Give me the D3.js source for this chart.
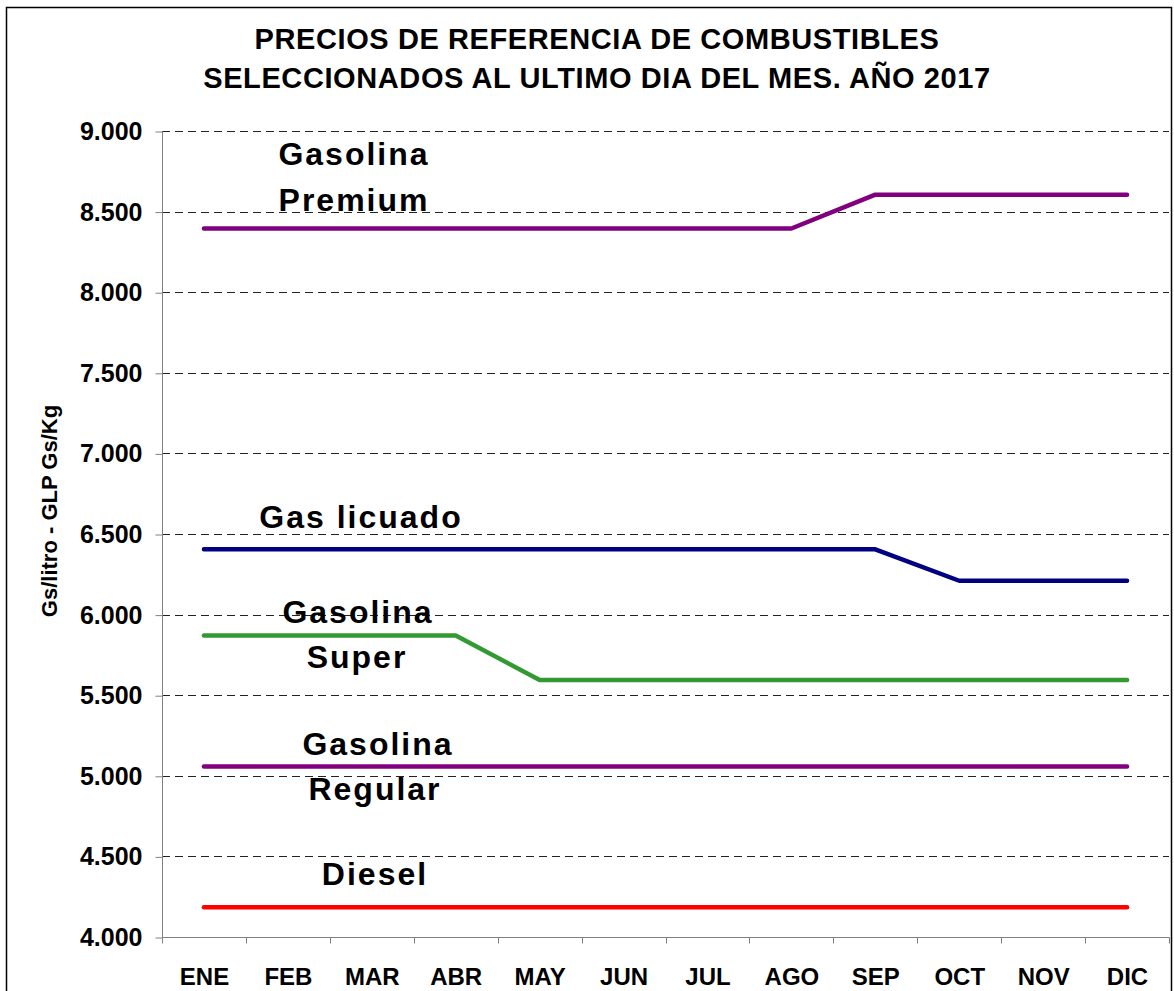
<!DOCTYPE html>
<html>
<head>
<meta charset="utf-8">
<script src="https://d3js.org/d3.v7.min.js"></script>
<style>
  body { margin: 0; background: #fff; }
  text { font-family: Arial, "Liberation Sans", sans-serif; font-weight: bold; fill: #000; }
</style>
</head>
<body>
<div id="chart"></div>
<script>
// months and series
const months = ["ENE", "FEB", "MAR", "ABR", "MAY", "JUN", "JUL", "AGO", "SEP", "OCT", "NOV", "DIC"];
const premium = [8395, 8395, 8395, 8395, 8395, 8395, 8395, 8395, 8605, 8605, 8605, 8605];
const glp = [6405, 6405, 6405, 6405, 6405, 6405, 6405, 6405, 6405, 6210, 6210, 6210];
const superG = [5870, 5870, 5870, 5870, 5595, 5595, 5595, 5595, 5595, 5595, 5595, 5595];
const regular = [5058, 5058, 5058, 5058, 5058, 5058, 5058, 5058, 5058, 5058, 5058, 5058];
const diesel = [4184, 4184, 4184, 4184, 4184, 4184, 4184, 4184, 4184, 4184, 4184, 4184];
const yTicks = [4000, 4500, 5000, 5500, 6000, 6500, 7000, 7500, 8000, 8500, 9000];

const width = 1174, height = 991;

const svg = d3.select("#chart")
    .append("svg")
    .attr("width", width)
    .attr("height", height);

// outer frame
svg.append("rect")
    .attr("x", 6.5).attr("y", 7.5)
    .attr("width", 1165).attr("height", 1000)
    .attr("fill", "white")
    .attr("stroke", "black")
    .attr("stroke-width", 1.5);

const x = d3.scaleBand().domain(months).range([162, 1169]);
const y = d3.scaleLinear().domain([4000, 9000]).range([937, 131]);

// title
svg.append("text")
    .attr("x", 597).attr("y", 49)
    .attr("text-anchor", "middle")
    .style("font-size", "29px")
    .style("letter-spacing", "0.6px")
    .text("PRECIOS DE REFERENCIA DE COMBUSTIBLES");
svg.append("text")
    .attr("x", 597).attr("y", 88)
    .attr("text-anchor", "middle")
    .style("font-size", "29px")
    .style("letter-spacing", "0.6px")
    .text("SELECCIONADOS AL ULTIMO DIA DEL MES. AÑO 2017");

// dashed gridlines
svg.append("g")
    .selectAll("line")
    .data(yTicks.filter(d => d > 4000))
    .enter()
    .append("line")
    .attr("x1", 162).attr("x2", 1169)
    .attr("y1", d => Math.round(y(d)) + 0.5)
    .attr("y2", d => Math.round(y(d)) + 0.5)
    .attr("stroke", "#222")
    .attr("stroke-dasharray", "8,5");

// y axis
const yAxis = d3.axisLeft(y)
    .tickValues(yTicks)
    .tickSize(7)
    .tickPadding(13)
    .tickFormat(d => d3.format(",.3f")(d / 1000).replace(",", ""));
const gy = svg.append("g")
    .attr("transform", "translate(162.5,0.5)")
    .call(yAxis);
gy.selectAll("path, line").attr("stroke", "#808080");
gy.select(".domain").attr("d", `M0,${y(9000)}V${y(4000)}`);
gy.selectAll("text")
    .style("font-size", "25px")
    .style("font-family", "Arial, 'Liberation Sans', sans-serif")
    .style("font-weight", "bold")
    .attr("fill", "#000");

// x axis
const xAxis = d3.axisBottom(x).tickSize(0).tickPadding(30);
const gx = svg.append("g")
    .attr("transform", `translate(0.5,${y(4000) + 0.5})`)
    .call(xAxis);
gx.select(".domain").attr("stroke", "#808080").attr("d", "M162,0H1169");
gx.selectAll("text")
    .style("font-size", "24px")
    .style("font-family", "Arial, 'Liberation Sans', sans-serif")
    .style("font-weight", "bold")
    .attr("fill", "#000");
// boundary ticks between months
gx.selectAll(".sep")
    .data(months.concat(["end"]))
    .enter()
    .append("line")
    .attr("x1", (d, i) => Math.round(162 + i * x.bandwidth()))
    .attr("x2", (d, i) => Math.round(162 + i * x.bandwidth()))
    .attr("y1", 0).attr("y2", 6)
    .attr("stroke", "#808080");

// y axis title
svg.append("text")
    .attr("transform", "translate(57,511) rotate(-90)")
    .attr("text-anchor", "middle")
    .style("font-size", "22px")
    .text("Gs/litro - GLP Gs/Kg");

// series lines
const series = [
    { values: premium, color: "#800080" },
    { values: glp, color: "#000080" },
    { values: superG, color: "#339933" },
    { values: regular, color: "#800080" },
    { values: diesel, color: "#FF0000" }
];
const line = d3.line()
    .x((d, i) => x(months[i]) + x.bandwidth() / 2)
    .y(d => y(d));
svg.append("g")
    .selectAll("path")
    .data(series)
    .enter()
    .append("path")
    .attr("d", d => line(d.values))
    .attr("fill", "none")
    .attr("stroke", d => d.color)
    .attr("stroke-width", 4.5)
    .attr("stroke-linecap", "round")
    .attr("stroke-linejoin", "round");

// series labels
const labels = [
    { text: "Gasolina", x: 354, y: 165 },
    { text: "Premium", x: 354, y: 211 },
    { text: "Gas licuado", x: 361, y: 528 },
    { text: "Gasolina", x: 358, y: 623 },
    { text: "Super", x: 357, y: 668 },
    { text: "Gasolina", x: 378, y: 755 },
    { text: "Regular", x: 375, y: 800 },
    { text: "Diesel", x: 375, y: 885 }
];
svg.append("g")
    .selectAll("text")
    .data(labels)
    .enter()
    .append("text")
    .attr("x", d => d.x)
    .attr("y", d => d.y)
    .attr("text-anchor", "middle")
    .style("font-size", "32px")
    .style("letter-spacing", "2px")
    .text(d => d.text);
</script>
</body>
</html>
